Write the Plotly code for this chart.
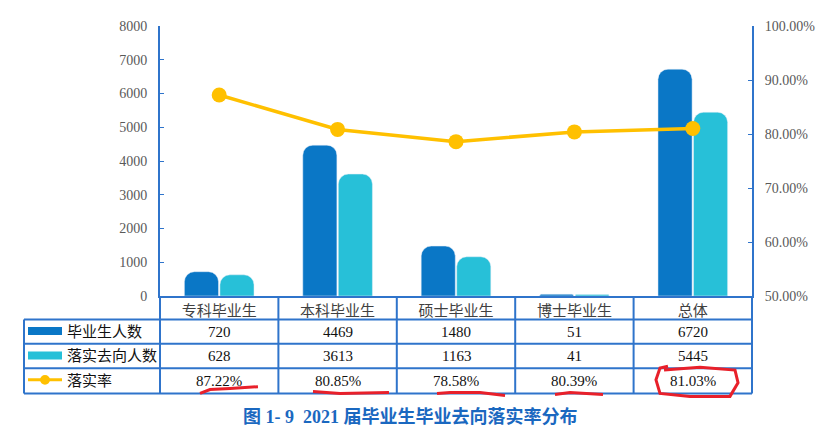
import plotly.graph_objects as go

categories = ["专科毕业生", "本科毕业生", "硕士毕业生", "博士毕业生", "总体"]
graduates = [720, 4469, 1480, 51, 6720]
placed = [628, 3613, 1163, 41, 5445]
rate = [0.8722, 0.8085, 0.7858, 0.8039, 0.8103]
rate_text = ["87.22%", "80.85%", "78.58%", "80.39%", "81.03%"]
row_names = ["毕业生人数", "落实去向人数", "落实率"]

DARK = "#0A77C6"
CYAN = "#27C0D8"
GOLD = "#FFC000"
LINE = "#2F74CB"
RED = "#E8202A"
SERIF = "Liberation Serif, Noto Sans CJK SC"

# plot area in reference pixels: x 160..752, y 19..296
def fx(p):
    return (p - 160) / 592.0

def fy(p):
    return (296 - p) / 277.0

fig = go.Figure()
fig.add_trace(go.Bar(x=categories, y=graduates, marker_color=DARK, name=row_names[0]))
fig.add_trace(go.Bar(x=categories, y=placed, marker_color=CYAN, name=row_names[1]))
fig.add_trace(go.Scatter(x=categories, y=rate, yaxis="y2", mode="lines+markers",
                         line=dict(color=GOLD, width=3.5),
                         marker=dict(color=GOLD, size=15), name=row_names[2]))

shapes = []
# table grid
for yy in [320, 345, 370, 396]:
    shapes.append(dict(type="line", xref="paper", yref="paper", x0=fx(24), x1=fx(752),
                       y0=fy(yy), y1=fy(yy), line=dict(color=LINE, width=2)))
shapes.append(dict(type="line", xref="paper", yref="paper", x0=fx(24), x1=fx(24),
                   y0=fy(320), y1=fy(396), line=dict(color=LINE, width=2)))
for xx in [160, 278.4, 396.8, 515.2, 633.6, 752]:
    shapes.append(dict(type="line", xref="paper", yref="paper", x0=fx(xx), x1=fx(xx),
                       y0=0, y1=fy(396), line=dict(color=LINE, width=2)))

# legend keys inside the table
shapes.append(dict(type="line", xref="paper", yref="paper", x0=fx(28), x1=fx(62),
                   y0=fy(332), y1=fy(332), line=dict(color=DARK, width=8)))
shapes.append(dict(type="line", xref="paper", yref="paper", x0=fx(28), x1=fx(62),
                   y0=fy(357), y1=fy(357), line=dict(color=CYAN, width=8)))
shapes.append(dict(type="line", xref="paper", yref="paper", x0=fx(28), x1=fx(62),
                   y0=fy(382), y1=fy(382), line=dict(color=GOLD, width=3)))
shapes.append(dict(type="circle", xref="paper", yref="paper", x0=fx(40), x1=fx(50),
                   y0=fy(387), y1=fy(377), fillcolor=GOLD, line=dict(color=GOLD, width=0)))

# hand-drawn red marks
def path(pts):
    return "M " + " L ".join("%.4f,%.4f" % (fx(a), fy(b)) for a, b in pts)

red_marks = [
    [(200, 396), (210, 392), (230, 391), (258, 389)],
    [(313, 394), (340, 396), (389, 395)],
    [(437, 396), (450, 395), (480, 395), (505, 398)],
    [(555, 397), (570, 395), (603, 397)],
    [(664, 372), (700, 369), (735, 372), (738, 385), (730, 399), (690, 399), (660, 396), (656, 382), (660, 370), (668, 368)],
]
for m in red_marks:
    shapes.append(dict(type="path", xref="paper", yref="paper", path=path(m),
                       line=dict(color=RED, width=3)))

annotations = []
rows = [graduates, placed, rate_text]
row_y = [333, 358, 383]
for vals, yy in zip(rows, row_y):
    for c, v in zip(categories, vals):
        annotations.append(dict(x=c, xref="x", y=fy(yy), yref="paper", text=str(v),
                                xanchor="center", yanchor="middle", showarrow=False,
                                font=dict(family=SERIF, size=15, color="#111111")))
for name, yy in zip(row_names, row_y):
    annotations.append(dict(x=fx(65), xref="paper", y=fy(yy), yref="paper", text=name,
                            xanchor="left", yanchor="middle", showarrow=False,
                            font=dict(family=SERIF, size=15, color="#111111")))
annotations.append(dict(x=fx(410), xref="paper", y=fy(420), yref="paper",
                        text="<b>图 1- 9  2021 届毕业生毕业去向落实率分布</b>",
                        xanchor="center", yanchor="middle", showarrow=False,
                        font=dict(family=SERIF, size=18, color="#1A68C0")))

# the page body adds 8px around the figure, so the figure is 8px smaller
fig.update_layout(
    width=822, height=437,
    margin=dict(l=152, r=78, t=11, b=149),
    plot_bgcolor="white", paper_bgcolor="white",
    showlegend=False,
    barmode="group", bargap=0.4, bargroupgap=0.04, barcornerradius=10,
    xaxis=dict(showline=True, linecolor=LINE, linewidth=2, ticks="",
               tickfont=dict(family=SERIF, size=15, color="#404040")),
    yaxis=dict(range=[0, 8000], dtick=1000, showgrid=False, showline=True, linecolor=LINE,
               linewidth=2, ticks="inside", ticklen=4, tickcolor=LINE, zeroline=False,
               ticklabelstandoff=8,
               tickfont=dict(family=SERIF, size=14, color="#595959")),
    yaxis2=dict(range=[0.5, 1.0], dtick=0.1, tickformat=".2%", overlaying="y", side="right",
                showgrid=False, showline=True, linecolor=LINE, linewidth=2, ticks="inside",
                ticklen=4, tickcolor=LINE, zeroline=False, ticklabelstandoff=8,
                tickfont=dict(family=SERIF, size=14, color="#595959")),
    shapes=shapes, annotations=annotations,
)

fig.write_html("out.html")
